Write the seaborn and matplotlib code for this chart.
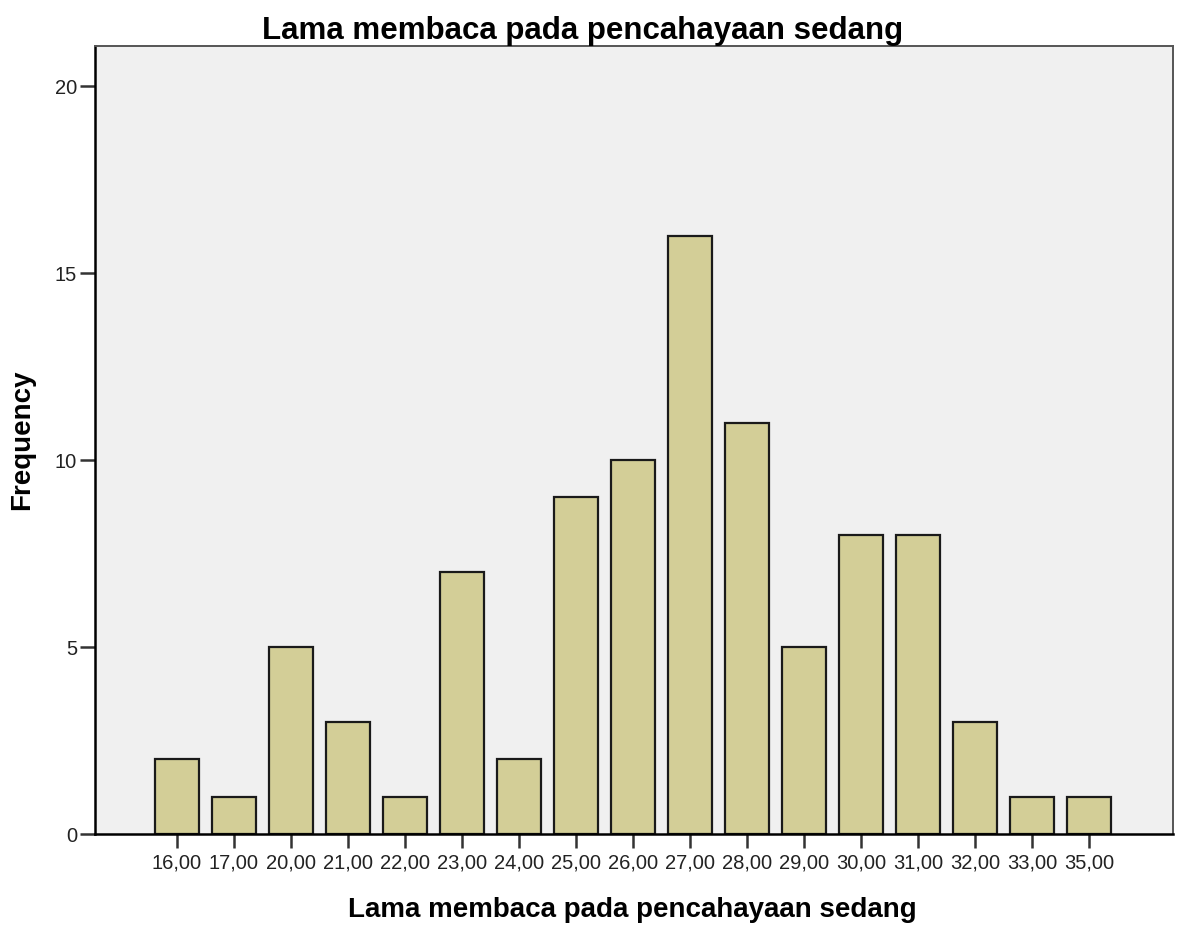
import matplotlib
matplotlib.use("Agg")
import matplotlib.pyplot as plt
import seaborn as sns
import pandas as pd

categories = ["16,00", "17,00", "20,00", "21,00", "22,00", "23,00", "24,00", "25,00",
              "26,00", "27,00", "28,00", "29,00", "30,00", "31,00", "32,00", "33,00", "35,00"]
frequency = [2, 1, 5, 3, 1, 7, 2, 9, 10, 16, 11, 5, 8, 8, 3, 1, 1]
y_ticks = [0, 5, 10, 15, 20]

title = "Lama membaca pada pencahayaan sedang"
x_label = "Lama membaca pada pencahayaan sedang"
y_label = "Frequency"

sns.set_style("white")
plt.rcParams["font.family"] = ["Liberation Sans", "DejaVu Sans"]
plt.rcParams["text.color"] = "black"
plt.rcParams["axes.labelcolor"] = "black"

df = pd.DataFrame({"cat": categories, "freq": frequency})

fig = plt.figure(figsize=(11.81, 9.27), dpi=100)
ax = fig.add_axes([95 / 1181, (927 - 834) / 927, (1173 - 95) / 1181, (834 - 46) / 927])
ax.set_facecolor("#F0F0F0")

sns.barplot(data=df, x="cat", y="freq", order=categories, ax=ax,
            color="#D3CE97", saturation=1, width=0.77,
            edgecolor="#1a1a1a", linewidth=1.6)

ax.set_xlim(-1.43, 17.47)
ax.set_ylim(0, 21.07)
ax.set_yticks(y_ticks)
ax.set_yticklabels([str(v) for v in y_ticks])

for side in ["left", "bottom"]:
    ax.spines[side].set_color("black")
    ax.spines[side].set_linewidth(1.8)
for side in ["top", "right"]:
    ax.spines[side].set_visible(True)
    ax.spines[side].set_color("#555555")
    ax.spines[side].set_linewidth(1.4)

ax.tick_params(axis="both", which="major", direction="out", length=11, width=1.8,
               color="#333333", labelsize=14.5, labelcolor="#222222", pad=2, left=True, bottom=True)
ax.tick_params(axis="x", length=10, pad=4)

ax.set_xlabel(x_label, fontsize=20, fontweight="bold")
ax.xaxis.set_label_coords((632 - 95) / 1078, (834 - 897) / 788)
ax.set_ylabel(y_label, fontsize=20, fontweight="bold")
ax.yaxis.set_label_coords((9 - 95) / 1078, 0.5)
ax.yaxis.label.set_va("top")
fig.text(583 / 1181, 1 - 31 / 927, title, ha="center", va="center",
         fontsize=22.5, fontweight="bold")

fig.savefig("out.png", dpi=100)
